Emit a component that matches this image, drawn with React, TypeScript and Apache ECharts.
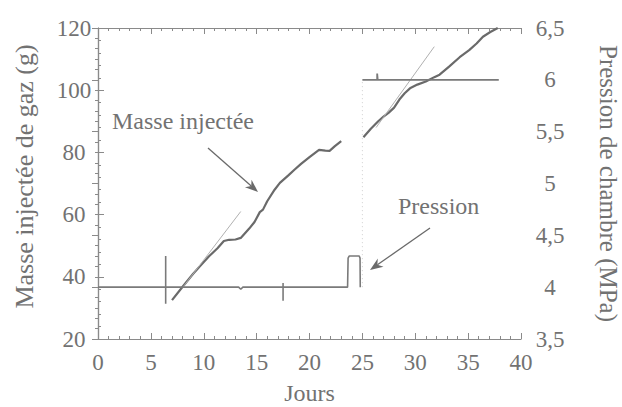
import React, { useEffect, useRef } from "react";
import * as echarts from "echarts";

// Masse injectée de gaz (g) vs jours
const massSegment1: [number, number][] = [
  [7.0, 32.5], [8.0, 36.8], [9.0, 41.0], [9.7, 43.6], [10.5, 46.6], [11.3, 49.2],
  [11.9, 51.5], [12.4, 51.9], [13.0, 52.0], [13.5, 52.5], [14.3, 55.5], [14.8, 57.6],
  [15.3, 60.8], [15.6, 61.6], [16.0, 64.3], [16.7, 68.0], [17.2, 70.2], [18.0, 72.6],
  [18.6, 74.5], [19.2, 76.3], [20.0, 78.5], [20.9, 80.8], [21.5, 80.6], [21.9, 80.5],
  [22.4, 82.0], [23.0, 83.6],
];
const massSegment2: [number, number][] = [
  [25.1, 84.9], [25.8, 87.6], [26.5, 90.0], [27.0, 91.5], [27.5, 92.8], [28.0, 94.4],
  [28.5, 97.0], [29.0, 99.0], [29.5, 100.6], [30.2, 101.8], [31.0, 102.8], [31.8, 104.2],
  [32.3, 105.0], [33.2, 107.6], [34.2, 110.6], [35.1, 112.9], [35.8, 115.0], [36.4, 117.2],
  [37.1, 118.7], [37.8, 120.0],
];
// Tangentes (droites fines)
const tangent1: [number, number][] = [[8.0, 36.5], [13.5, 61.0]];
const tangent2: [number, number][] = [[26.3, 88.0], [31.8, 114.0]];

// Pression de chambre (MPa) vs jours
const pressureSegment1: [number, number][] = [
  [0, 4.0], [6.4, 4.0], [6.4, 4.3], [6.4, 3.84], [6.4, 4.0], [13.3, 4.0], [13.5, 3.98],
  [13.7, 4.0], [17.5, 4.0], [17.5, 4.04], [17.5, 3.87], [17.5, 4.0], [23.6, 4.0],
  [23.65, 4.28], [23.75, 4.3], [24.7, 4.3], [24.78, 4.28], [24.8, 4.0],
];
const pressureJump: [number, number][] = [[25.0, 4.0], [25.0, 6.0]];
const pressureSegment2: [number, number][] = [
  [25.0, 6.0], [26.4, 6.0], [26.4, 6.06], [26.45, 6.0], [37.9, 6.0],
];

const xMin = 0, xMax = 40, xInterval = 5;
const massMin = 20, massMax = 120, massInterval = 20;
const pMin = 3.5, pMax = 6.5, pInterval = 0.5;

const FONT = "Liberation Serif";
const TEXT = "#727272";
const AXIS = "#8a8a8a";
const LINE = "#6a6a6a";

function arrow(x1: number, y1: number, x2: number, y2: number) {
  const dx = x2 - x1, dy = y2 - y1;
  const len = Math.sqrt(dx * dx + dy * dy);
  const ux = dx / len, uy = dy / len;
  const hl = 13, hw = 5;
  const bx = x2 - ux * hl, by = y2 - uy * hl;
  const px = -uy, py = ux;
  return [
    {
      type: "line",
      shape: { x1, y1, x2: bx + ux * 4, y2: by + uy * 4 },
      style: { stroke: LINE, lineWidth: 1.3 },
    },
    {
      type: "polygon",
      shape: {
        points: [
          [x2, y2],
          [bx + px * hw, by + py * hw],
          [bx + ux * 4, by + uy * 4],
          [bx - px * hw, by - py * hw],
        ],
      },
      style: { fill: LINE },
    },
  ];
}

export default function App() {
  const ref = useRef<HTMLDivElement>(null);
  useEffect(() => {
    if (!ref.current) return;
    const chart = echarts.init(ref.current, null, { renderer: "svg" });
    const tickCommon = { inside: true, length: 6, lineStyle: { color: AXIS, width: 1 } };
    const minorCommon = { show: true, splitNumber: 5, length: 3, lineStyle: { color: AXIS, width: 1 } };
    const labelCommon = { color: TEXT, fontFamily: FONT, fontSize: 23 };
    chart.setOption({
      animation: false,
      backgroundColor: "#ffffff",
      grid: {
        left: 98, right: 101, top: 28, bottom: 68,
        containLabel: false, outerBoundsMode: "none",
      },
      xAxis: [
        {
          type: "value", min: xMin, max: xMax, interval: xInterval, position: "bottom",
          name: "Jours", nameLocation: "middle", nameGap: 42,
          nameTextStyle: { color: TEXT, fontFamily: FONT, fontSize: 24 },
          axisLine: { show: true, lineStyle: { color: AXIS, width: 1.2 } },
          axisTick: tickCommon, minorTick: minorCommon,
          axisLabel: { ...labelCommon, margin: 12 },
          splitLine: { show: false },
        },
        {
          type: "value", min: xMin, max: xMax, interval: xInterval, position: "top",
          axisLine: { show: true, lineStyle: { color: AXIS, width: 1.2 } },
          axisTick: tickCommon, minorTick: minorCommon,
          axisLabel: { show: false }, splitLine: { show: false },
        },
      ],
      yAxis: [
        {
          type: "value", min: massMin, max: massMax, interval: massInterval, position: "left",
          name: "Masse injectée de gaz (g)", nameLocation: "middle", nameGap: 61,
          nameTextStyle: { color: TEXT, fontFamily: FONT, fontSize: 26, padding: [0, 0, 0, 14] },
          axisLine: { show: true, lineStyle: { color: AXIS, width: 1.2 } },
          axisTick: tickCommon, minorTick: minorCommon,
          axisLabel: { ...labelCommon, margin: 24, align: "center" },
          splitLine: { show: false },
        },
        {
          type: "value", min: pMin, max: pMax, interval: pInterval, position: "right",
          name: "Pression de chambre (MPa)", nameLocation: "middle", nameGap: 75, nameRotate: -90,
          nameTextStyle: { color: TEXT, fontFamily: FONT, fontSize: 25 },
          axisLine: { show: true, lineStyle: { color: AXIS, width: 1.2 } },
          axisTick: tickCommon, minorTick: minorCommon,
          axisLabel: {
            ...labelCommon, margin: 29, align: "center",
            formatter: (v: number) => String(v).replace(".", ","),
          },
          splitLine: { show: false },
        },
      ],
      series: [
        {
          type: "line", name: "Masse 1", data: massSegment1, xAxisIndex: 0, yAxisIndex: 0,
          showSymbol: false, lineStyle: { color: LINE, width: 2.2 },
        },
        {
          type: "line", name: "Masse 2", data: massSegment2, xAxisIndex: 0, yAxisIndex: 0,
          showSymbol: false, lineStyle: { color: LINE, width: 2.2 },
        },
        {
          type: "line", name: "Tangente 1", data: tangent1, xAxisIndex: 0, yAxisIndex: 0,
          showSymbol: false, lineStyle: { color: "#b0b0b0", width: 1 },
        },
        {
          type: "line", name: "Tangente 2", data: tangent2, xAxisIndex: 0, yAxisIndex: 0,
          showSymbol: false, lineStyle: { color: "#b0b0b0", width: 1 },
        },
        {
          type: "line", name: "Pression 1", data: pressureSegment1, xAxisIndex: 0, yAxisIndex: 1,
          showSymbol: false, lineStyle: { color: "#7a7a7a", width: 1.6 },
        },
        {
          type: "line", name: "Saut", data: pressureJump, xAxisIndex: 0, yAxisIndex: 1,
          showSymbol: false, lineStyle: { color: "#d0d0d0", width: 1, type: [1, 3] },
        },
        {
          type: "line", name: "Pression 2", data: pressureSegment2, xAxisIndex: 0, yAxisIndex: 1,
          showSymbol: false, lineStyle: { color: "#7a7a7a", width: 1.8 },
        },
      ],
      graphic: [
        {
          type: "text", left: 112, top: 109,
          style: { text: "Masse injectée", fill: TEXT, fontFamily: FONT, fontSize: 24 },
        },
        ...arrow(208, 148, 258, 192),
        {
          type: "text", left: 398, top: 194,
          style: { text: "Pression", fill: TEXT, fontFamily: FONT, fontSize: 24 },
        },
        ...arrow(430, 228, 370, 270),
      ],
    });
    return () => chart.dispose();
  }, []);
  return <div ref={ref} style={{ width: 622, height: 407, position: "absolute", left: 0, top: 0 }} />;
}
